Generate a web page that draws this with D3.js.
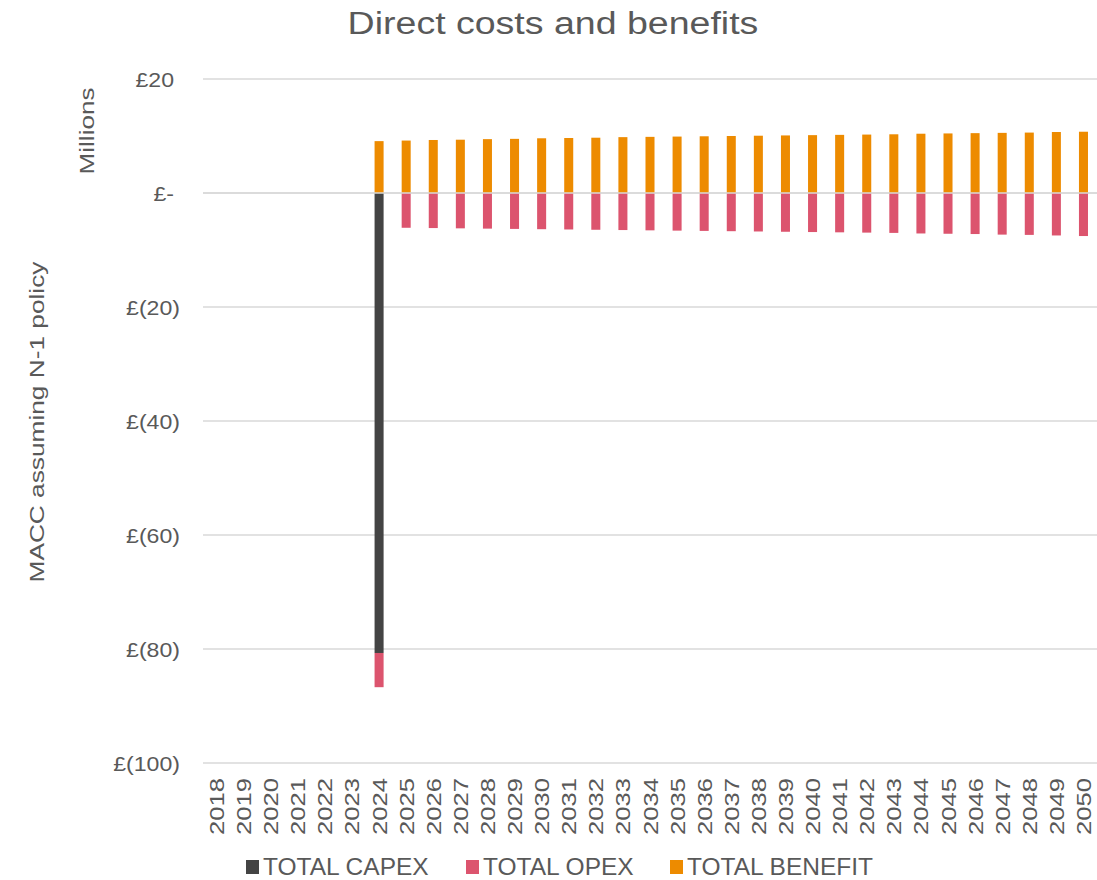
<!DOCTYPE html>
<html>
<head>
<meta charset="utf-8">
<script src="https://cdnjs.cloudflare.com/ajax/libs/d3/7.9.0/d3.min.js"></script>
<style>
  body { margin: 0; background: #fff; }
  text { font-family: "Liberation Sans", Arial, sans-serif; fill: #595959; }
</style>
</head>
<body>
<div id="chart"></div>
<script>
// chart data (millions of £)
const years = d3.range(2018, 2051).map(String);
const capex = [0, 0, 0, 0, 0, 0, -80.7, 0, 0, 0, 0, 0, 0, 0, 0, 0, 0, 0, 0, 0, 0, 0, 0, 0, 0, 0, 0, 0, 0, 0, 0, 0, 0];
const opex = [0, 0, 0, 0, 0, 0, -6.0, -6.1, -6.15, -6.2, -6.25, -6.3, -6.35, -6.4, -6.45, -6.5, -6.55, -6.6, -6.65, -6.7, -6.75, -6.8, -6.85, -6.9, -6.95, -7.0, -7.1, -7.15, -7.2, -7.3, -7.35, -7.45, -7.55];
const benefit = [0, 0, 0, 0, 0, 0, 9.1, 9.2, 9.3, 9.35, 9.45, 9.5, 9.6, 9.65, 9.7, 9.8, 9.85, 9.9, 9.95, 10.0, 10.05, 10.1, 10.15, 10.2, 10.25, 10.3, 10.4, 10.45, 10.5, 10.55, 10.6, 10.7, 10.75];
const yTicks = [20, 0, -20, -40, -60, -80, -100];
const seriesNames = ["TOTAL CAPEX", "TOTAL OPEX", "TOTAL BENEFIT"];
const colors = ["#444444", "#DC546E", "#ED8B00"];

const width = 1097, height = 880;
const svg = d3.select("#chart").append("svg")
  .attr("width", width).attr("height", height);

// the original text is drawn a bit wider than Arial, so stretch it
function stretch(sel, k) {
  sel.each(function () {
    const w = this.getComputedTextLength();
    d3.select(this).attr("textLength", w * k).attr("lengthAdjust", "spacingAndGlyphs");
  });
}

const x = d3.scaleBand().domain(years).range([203, 1097]).paddingInner(0.667).paddingOuter(0.333);
const y = d3.scaleLinear().domain([-100, 20]).range([763, 79]);

// gridlines
svg.append("g").selectAll("line").data(yTicks).join("line")
  .attr("x1", 203).attr("x2", 1097)
  .attr("y1", d => y(d)).attr("y2", d => y(d))
  .attr("stroke", "#d9d9d9").attr("stroke-width", 1.3);

// y axis labels (accounting style, brackets hang past the right edge)
const fmt = d => d === 0 ? "£-" : d < 0 ? "£(" + (-d) + ")" : "£" + d;
svg.append("g").selectAll("text").data(yTicks).join("text")
  .attr("x", d => d < 0 ? 180 : 174)
  .attr("y", d => y(d) + 7.5)
  .attr("text-anchor", "end")
  .attr("font-size", 21)
  .text(fmt)
  .call(stretch, 1.1);

// stacked bars: capex then opex going down, benefit going up
const rows = years.map((yr, i) => ({ year: yr, capex: capex[i], opex: opex[i], benefit: benefit[i] }));
const segs = [];
rows.forEach(r => {
  segs.push({ year: r.year, y0: 0, y1: r.capex, c: colors[0] });
  segs.push({ year: r.year, y0: r.capex, y1: r.capex + r.opex, c: colors[1] });
  segs.push({ year: r.year, y0: 0, y1: r.benefit, c: colors[2] });
});
svg.append("g").selectAll("rect").data(segs.filter(s => s.y1 !== s.y0)).join("rect")
  .attr("x", d => x(d.year))
  .attr("width", x.bandwidth())
  .attr("y", d => y(Math.max(d.y0, d.y1)))
  .attr("height", d => Math.abs(y(d.y0) - y(d.y1)))
  .attr("fill", d => d.c);

// zero line on top
svg.append("line").attr("x1", 203).attr("x2", 1097).attr("y1", y(0)).attr("y2", y(0))
  .attr("stroke", "#d9d9d9").attr("stroke-width", 1.3);

// x axis labels, rotated
svg.append("g").selectAll("text").data(years).join("text")
  .attr("transform", d => `translate(${x(d) + x.bandwidth() / 2 + 7.5},778) rotate(-90)`)
  .attr("text-anchor", "end")
  .attr("font-size", 21)
  .text(d => d)
  .call(stretch, 1.22);

// title
svg.append("text").attr("x", 553).attr("y", 34).attr("text-anchor", "middle")
  .attr("font-size", 31).text("Direct costs and benefits")
  .call(stretch, 1.21);

// axis titles
svg.append("text").attr("transform", "translate(44,422) rotate(-90)")
  .attr("text-anchor", "middle").attr("font-size", 21).text("MACC assuming N-1 policy")
  .call(stretch, 1.25);
svg.append("text").attr("transform", "translate(94,131) rotate(-90)")
  .attr("text-anchor", "middle").attr("font-size", 21).text("Millions")
  .call(stretch, 1.24);

// legend
const legX = [246, 466, 670];
const leg = svg.append("g").selectAll("g").data(seriesNames).join("g")
  .attr("transform", (d, i) => `translate(${legX[i]},860)`);
leg.append("rect").attr("width", 13).attr("height", 14).attr("fill", (d, i) => colors[i]);
leg.append("text").attr("x", 17).attr("y", 15).attr("font-size", 24.5).text(d => d);
</script>
</body>
</html>
